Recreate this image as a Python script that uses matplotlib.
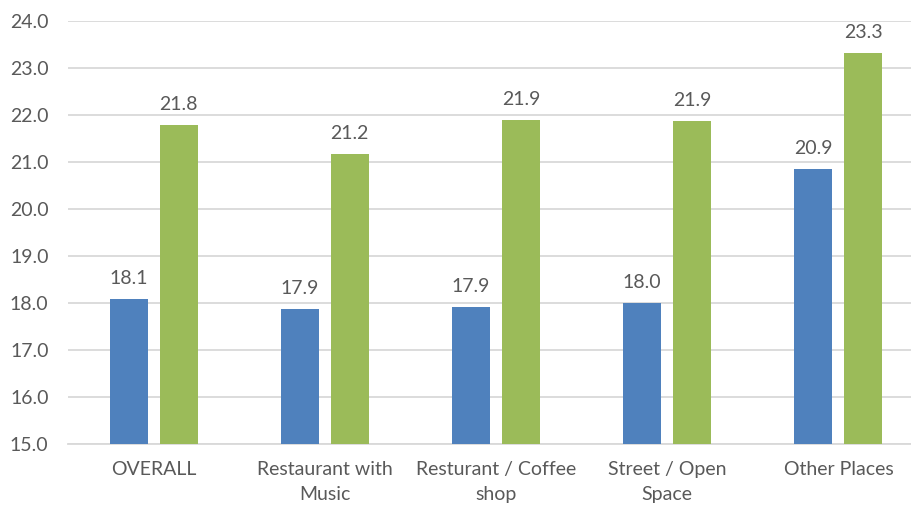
import matplotlib.pyplot as plt
import numpy as np

categories = ["OVERALL", "Restaurant with\nMusic", "Resturant / Coffee\nshop",
              "Street / Open\nSpace", "Other Places"]
blue_vals = [18.08, 17.88, 17.92, 17.99, 20.86]
green_vals = [21.78, 21.18, 21.90, 21.87, 23.32]

blue = "#4F81BD"
green = "#9BBB59"
text_col = "#595959"
grid_col = "#D9D9D9"

plt.rcParams['font.family'] = ['Lato', 'DejaVu Sans']

fig = plt.figure(figsize=(9.12, 5.08), dpi=100)
ax = fig.add_axes([68 / 912, 1 - 444 / 508, 856 / 912, 423 / 508])

x = np.arange(len(categories))
w = 0.222
off = 0.146
ax.bar(x - off, [v - 15 for v in blue_vals], w, bottom=15, color=blue, zorder=3)
ax.bar(x + off, [v - 15 for v in green_vals], w, bottom=15, color=green, zorder=3)

for xs, vals in ((x - off, blue_vals), (x + off, green_vals)):
    for xi, v in zip(xs, vals):
        ax.annotate(f"{v:.1f}", (xi, v), xytext=(0, 12), textcoords="offset pixels",
                    ha="center", va="bottom", fontsize=14, color=text_col)

ax.set_xlim(-0.5, len(categories) - 0.5)
ax.set_ylim(15, 24)
yt = np.arange(15, 24.1, 1)
ax.set_yticks(yt)
ax.set_yticklabels([f"{t:.1f}" for t in yt])
ax.set_xticks(x)
ax.set_xticklabels(categories, linespacing=1.6)
ax.tick_params(axis="both", length=0, labelsize=14, colors=text_col)
ax.tick_params(axis="x", pad=12)
ax.tick_params(axis="y", pad=14)

ax.grid(axis="y", color=grid_col, linewidth=1.3, zorder=0)
for s in ("top", "right", "left"):
    ax.spines[s].set_visible(False)
ax.spines["bottom"].set_color(grid_col)
ax.spines["bottom"].set_linewidth(1.3)

fig.savefig("out.png", dpi=100)
